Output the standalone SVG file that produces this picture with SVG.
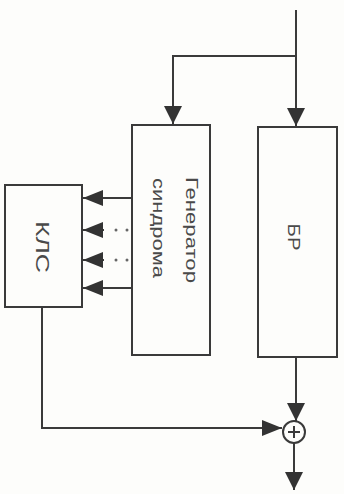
<svg xmlns="http://www.w3.org/2000/svg" width="344" height="494" viewBox="0 0 344 494">
<style>
.box{fill:#fdfdfb;stroke:#3a3a3a;stroke-width:2}
.ln{fill:none;stroke:#3a3a3a;stroke-width:2}
.dot{fill:#666}
.lbl{font-family:"Liberation Sans",Arial,sans-serif;fill:#4a4a4a;dominant-baseline:central;text-anchor:middle}
</style>
<defs>
<marker id="ahb" viewBox="0 0 20 16" refX="20" refY="8" markerWidth="20" markerHeight="16" markerUnits="userSpaceOnUse" orient="auto" preserveAspectRatio="none">
<path d="M0,0 L20,8 L0,16 Z" fill="#333"/>
</marker>
<marker id="ahv" viewBox="0 0 18 18" refX="18" refY="9" markerWidth="18" markerHeight="18" markerUnits="userSpaceOnUse" orient="auto" preserveAspectRatio="none">
<path d="M0,0 L18,9 L0,18 Z" fill="#333"/>
</marker>
</defs>
<rect width="344" height="494" fill="#fdfdfb"/>
<g id="connectors">
<path class="ln" d="M296,10 V126" marker-end="url(#ahv)"/>
<path class="ln" d="M296,56 H173 V124" marker-end="url(#ahv)"/>
<path class="ln" d="M132,198 H83" marker-end="url(#ahb)"/>
<path class="ln" d="M104,230 H83" marker-end="url(#ahb)"/>
<path class="ln" d="M104,260 H83" marker-end="url(#ahb)"/>
<path class="ln" d="M132,288 H83" marker-end="url(#ahb)"/>
<circle class="dot" cx="116" cy="230" r="1.5"/>
<circle class="dot" cx="127" cy="230" r="1.5"/>
<circle class="dot" cx="116" cy="260" r="1.5"/>
<circle class="dot" cx="127" cy="260" r="1.5"/>
<path class="ln" d="M296,357 V421" marker-end="url(#ahv)"/>
<path class="ln" d="M42,307 V428 H282" marker-end="url(#ahb)"/>
<path class="ln" d="M294,443 V490" marker-end="url(#ahv)"/>
</g>
<g id="klc">
<rect class="box" x="5" y="185" width="77" height="122"/>
<text class="lbl" font-size="19" transform="translate(42,247) rotate(90)" textLength="52" lengthAdjust="spacingAndGlyphs">КЛС</text>
</g>
<g id="gen">
<rect class="box" x="132" y="125" width="78" height="230"/>
<text class="lbl" font-size="16" transform="translate(191,230) rotate(90)" textLength="106" lengthAdjust="spacingAndGlyphs">Генератор</text>
<text class="lbl" font-size="16" transform="translate(158,228) rotate(90)" textLength="100" lengthAdjust="spacingAndGlyphs">синдрома</text>
</g>
<g id="br">
<rect class="box" x="258" y="127" width="79" height="230"/>
<text class="lbl" font-size="16" transform="translate(293,237) rotate(90)" textLength="27" lengthAdjust="spacingAndGlyphs">БР</text>
</g>
<g id="sum">
<circle cx="294" cy="432" r="11" fill="#fdfdfb" stroke="#3a3a3a" stroke-width="2"/>
<path class="ln" d="M288,432 H300 M294,426 V438"/>
</g>
</svg>
